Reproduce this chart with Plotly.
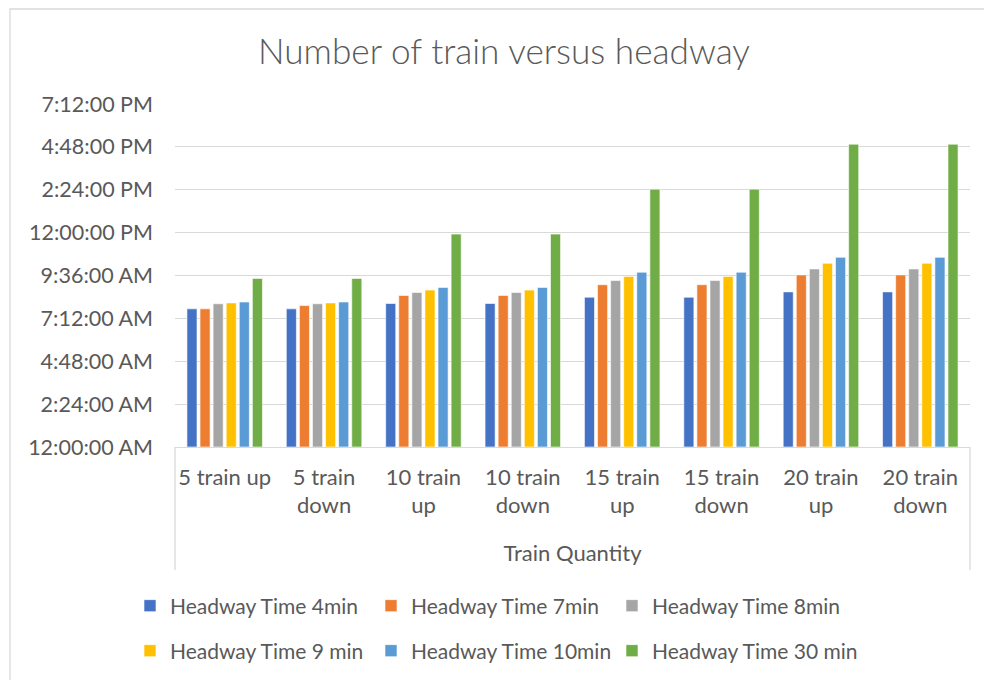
import plotly.graph_objects as go

categories = ["5 train up", "5 train<br>down", "10 train<br>up", "10 train<br>down",
              "15 train<br>up", "15 train<br>down", "20 train<br>up", "20 train<br>down"]

series_names = ["Headway Time 4min", "Headway Time 7min", "Headway Time 8min",
                "Headway Time 9 min", "Headway Time 10min", "Headway Time 30 min"]

h4 = ["7:44", "7:44", "8:02", "8:02", "8:23", "8:23", "8:41", "8:41"]
h7 = ["7:44", "7:55", "8:29", "8:29", "9:05", "9:05", "9:38", "9:38"]
h8 = ["8:01", "8:01", "8:39", "8:39", "9:19", "9:19", "9:58", "9:58"]
h9 = ["8:04", "8:04", "8:47", "8:47", "9:33", "9:33", "10:17", "10:17"]
h10 = ["8:07", "8:07", "8:56", "8:56", "9:47", "9:47", "10:37", "10:37"]
h30 = ["9:26", "9:26", "11:55", "11:55", "14:26", "14:26", "16:57", "16:57"]

tick_times = ["00:00", "02:24", "04:48", "07:12", "09:36", "12:00", "14:24", "16:48", "19:12"]

colors = ["#4472C4", "#ED7D31", "#A5A5A5", "#FFC000", "#5B9BD5", "#70AD47"]

DAY = "1970-01-01 "


def to_dt(t):
    hh, mm = t.split(":")
    return f"{DAY}{int(hh):02d}:{mm}:00"


FONT = "Lato"
GREY = "#595959"
O = 8  # default body margin of the page

fig = go.Figure()
all_series = [h4, h7, h8, h9, h10, h30]
for i, (name, vals, col) in enumerate(zip(series_names, all_series, colors)):
    extra = dict(legendwidth=240) if i == len(all_series) - 1 else {}
    fig.add_trace(go.Bar(
        x=categories, y=[to_dt(v) for v in vals], name=name,
        marker=dict(color=col, line=dict(color="white", width=0.6)),
        legend="legend" if i < 3 else "legend2",
        **extra,
    ))

W, H = 992 - O, 680 - O
L, T = 175 - O, 104 - O
R = 992 - 970
B = 680 - 447
ph = H - T - B
pw = W - L - R

leg_common = dict(orientation="h", xref="container", yref="container",
                  xanchor="left", yanchor="middle",
                  entrywidth=196, itemwidth=30, font=dict(size=21, color=GREY),
                  bgcolor="rgba(0,0,0,0)")

fig.update_layout(
    width=W, height=H,
    margin=dict(l=L, r=R, t=T, b=B),
    paper_bgcolor="white", plot_bgcolor="white",
    barmode="group", bargap=0.21, bargroupgap=0.23,
    font=dict(family=FONT, color=GREY, size=22),
    title=dict(text="Number of train versus headway", x=(504 - O) / W, xanchor="center",
               y=1 - (52 - O) / H, yanchor="middle", xref="container", yref="container",
               font=dict(family=FONT, size=35.2, color=GREY, weight=300)),
    legend=dict(x=(130 - O) / W, y=1 - (606 - O) / H, **leg_common),
    legend2=dict(x=(130 - O) / W, y=1 - (651 - O) / H, **leg_common),
    showlegend=True,
)

fig.update_yaxes(
    type="date",
    range=[to_dt(tick_times[0]), to_dt(tick_times[-1])],
    tickvals=[to_dt(t) for t in tick_times],
    tickformat="%-I:%M:%S %p",
    showgrid=True, gridcolor="#D9D9D9", gridwidth=1.3,
    zeroline=False, showline=False, ticks="",
    ticklabelstandoff=21,
    tickfont=dict(size=21.5, color=GREY),
)

fig.update_xaxes(
    type="category",
    showline=True, linecolor="#D9D9D9", linewidth=1.3,
    ticks="", tickfont=dict(size=22, color=GREY),
    ticklabelstandoff=10,
    title=dict(text="Train Quantity", font=dict(size=22, color=GREY), standoff=28),
)

# category table box lines below axis
box_bottom = (447 - 570) / ph
for xp in [0, 1]:
    fig.add_shape(type="line", xref="paper", yref="paper", x0=xp, x1=xp, y0=0, y1=box_bottom,
                  line=dict(color="#D9D9D9", width=1.3), layer="below")

# outer chart border
fig.add_shape(type="rect", xref="paper", yref="paper",
              x0=(10 - 175) / pw, x1=(1005 - 175) / pw,
              y0=(447 - 700) / ph, y1=(447 - 9) / ph,
              line=dict(color="#D9D9D9", width=1.3), fillcolor="rgba(0,0,0,0)", layer="below")

fig.write_html("out.html")
